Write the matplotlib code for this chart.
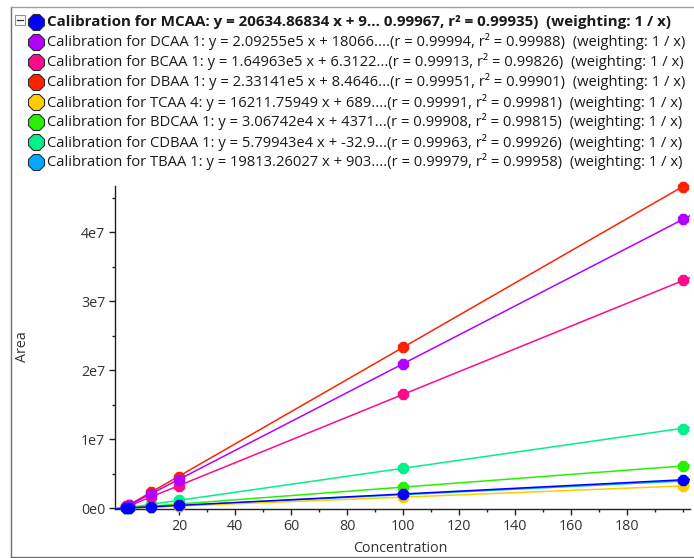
import matplotlib
matplotlib.use("Agg")
import matplotlib.pyplot as plt
from matplotlib.lines import Line2D
from matplotlib.patches import Rectangle
from matplotlib.ticker import MultipleLocator, FixedLocator

plt.rcParams['font.family'] = ['Open Sans', 'DejaVu Sans']

# ---- data ----
conc = [1, 2, 10, 20, 100, 200]

names = ['MCAA', 'DCAA 1', 'BCAA 1', 'DBAA 1', 'TCAA 4', 'BDCAA 1', 'CDBAA 1', 'TBAA 1']
colors = ['#0000ff', '#b400ff', '#ff0a8c', '#ff2200', '#ffcc00', '#28f000', '#00f08c', '#00aaff']
slopes = [20634.86834, 2.09255e5, 1.64963e5, 2.33141e5, 16211.75949, 3.06742e4, 5.79943e4, 19813.26027]
intercepts = [9000, 18066, 6312.2, 8464.6, 689, 4371, -32.9, 903]

areas = {
    'MCAA':    [2.5e4, 4.5e4, 2.1e5, 4.2e5, 2.02e6, 4.15e6],
    'DCAA 1':  [2.3e5, 4.3e5, 2.1e6, 4.1e6, 2.09e7, 4.19e7],
    'BCAA 1':  [1.8e5, 3.5e5, 1.7e6, 3.3e6, 1.66e7, 3.31e7],
    'DBAA 1':  [3.0e5, 5.2e5, 2.4e6, 4.6e6, 2.34e7, 4.66e7],
    'TCAA 4':  [1.8e4, 3.5e4, 1.6e5, 3.3e5, 1.63e6, 3.25e6],
    'BDCAA 1': [3.2e4, 6.3e4, 3.1e5, 6.2e5, 3.05e6, 6.1e6],
    'CDBAA 1': [6.0e4, 1.2e5, 6.0e5, 1.2e6, 5.8e6, 1.15e7],
    'TBAA 1':  [2.2e4, 4.2e4, 2.0e5, 4.0e5, 1.98e6, 3.95e6],
}

legend_lines = [
    'Calibration for MCAA: y = 20634.86834 x + 9... 0.99967, r\u00b2 = 0.99935)  (weighting: 1 / x)',
    'Calibration for DCAA 1: y = 2.09255e5 x + 18066....(r = 0.99994, r\u00b2 = 0.99988)  (weighting: 1 / x)',
    'Calibration for BCAA 1: y = 1.64963e5 x + 6.3122...(r = 0.99913, r\u00b2 = 0.99826)  (weighting: 1 / x)',
    'Calibration for DBAA 1: y = 2.33141e5 x + 8.4646...(r = 0.99951, r\u00b2 = 0.99901)  (weighting: 1 / x)',
    'Calibration for TCAA 4: y = 16211.75949 x + 689....(r = 0.99991, r\u00b2 = 0.99981)  (weighting: 1 / x)',
    'Calibration for BDCAA 1: y = 3.06742e4 x + 4371...(r = 0.99908, r\u00b2 = 0.99815)  (weighting: 1 / x)',
    'Calibration for CDBAA 1: y = 5.79943e4 x + -32.9...(r = 0.99963, r\u00b2 = 0.99926)  (weighting: 1 / x)',
    'Calibration for TBAA 1: y = 19813.26027 x + 903....(r = 0.99979, r\u00b2 = 0.99958)  (weighting: 1 / x)',
]

W, H = 694, 558
fig = plt.figure(figsize=(W / 100, H / 100), dpi=100)
ax = fig.add_axes([115 / W, 1 - 509 / H, (690 - 115) / W, (509 - 186) / H])

# draw in reverse so MCAA sits on top
for i in reversed(range(len(names))):
    n = names[i]
    z = 10 - i
    ax.axline((0, intercepts[i]), slope=slopes[i], color=colors[i], lw=1.1, zorder=z)
    ax.plot(conc, areas[n], ls='none', marker='8', ms=8.5, color=colors[i],
            mec=colors[i], zorder=z + 0.5, clip_on=False)

ax.set_xlim(-2.9, 202.5)
ax.set_ylim(-1e5, 4.67e7)
ax.xaxis.set_major_locator(FixedLocator([20, 40, 60, 80, 100, 120, 140, 160, 180]))
ax.xaxis.set_minor_locator(MultipleLocator(10))
ax.yaxis.set_major_locator(FixedLocator([0, 1e7, 2e7, 3e7, 4e7]))
ax.yaxis.set_minor_locator(MultipleLocator(5e6))
ax.set_yticklabels(['0e0', '1e7', '2e7', '3e7', '4e7'])
for s in ['top', 'right']:
    ax.spines[s].set_visible(False)
for s in ['left', 'bottom']:
    ax.spines[s].set_color('#202020')
    ax.spines[s].set_linewidth(1.0)
ax.tick_params(which='major', length=4, width=1, color='#202020', labelsize=10.3,
               labelcolor='#333333', pad=3)
ax.tick_params(which='minor', length=2.5, width=1, color='#202020')

fig.text(400 / W, 1 - 548 / H, 'Concentration', ha='center', va='center',
         fontsize=10.3, color='#333333')
fig.text(23 / W, 1 - 347 / H, 'Area', ha='center', va='center', rotation=90,
         fontsize=10.3, color='#333333')

# panel frame
fig.add_artist(Line2D([11 / W, 11 / W], [1 - 7 / H, 1 - 557 / H], transform=fig.transFigure,
                      color='#707070', lw=1))
fig.add_artist(Line2D([11 / W, 1], [1 - 7 / H, 1 - 7 / H], transform=fig.transFigure,
                      color='#a0a0a0', lw=1))
fig.add_artist(Line2D([11 / W, 1], [1 - 557 / H, 1 - 557 / H], transform=fig.transFigure,
                      color='#707070', lw=1))

# collapse box
fig.add_artist(Rectangle((15 / W, 1 - 25 / H), 10 / W, 10 / H, transform=fig.transFigure,
                         fc='white', ec='#909090', lw=0.8))
fig.add_artist(Line2D([17 / W, 23 / W], [1 - 20 / H, 1 - 20 / H], transform=fig.transFigure,
                      color='#333333', lw=0.9))

# legend rows
for i, txt in enumerate(legend_lines):
    yy = 1 - (22 + 20 * i) / H
    fig.add_artist(Line2D([36 / W], [yy], transform=fig.transFigure, marker='8', ms=12,
                          mfc=colors[i], mec='#303030', mew=0.8, ls='none'))
    fig.text(47.5 / W, yy, txt, ha='left', va='center',
             fontsize=10.9 if i == 0 else 10.6, color='#1a1a1a',
             fontweight='bold' if i == 0 else 'normal')

fig.savefig('out.png', dpi=100)
